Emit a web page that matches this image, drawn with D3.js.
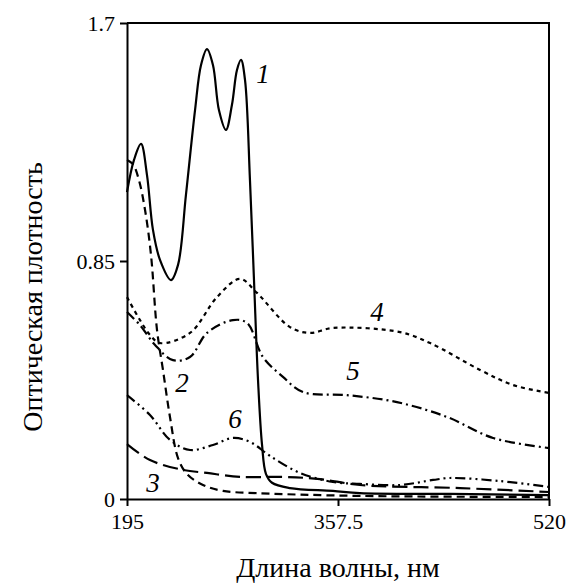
<!DOCTYPE html>
<html>
<head>
<meta charset="utf-8">
<script src="https://cdn.jsdelivr.net/npm/d3@7"></script>
<style>
  body { margin: 0; background: #fff; }
  svg { display: block; }
</style>
</head>
<body>
<div id="chart"></div>
<script>
// wavelength (nm) / optical density
const curve1X = [195, 200.4, 205.8, 210.4, 215, 220.4, 228.9, 234.3, 240.4, 247.4, 252, 256.6, 261.2, 265.8, 271.2, 275.8, 279.7, 282.8, 285.9, 289.7, 292.8, 295.9, 299, 302, 306.7, 320.5, 353.6, 374.4, 443.8, 520];
const curve1Y = [1.096, 1.211, 1.268, 1.157, 0.961, 0.854, 0.782, 0.836, 1.086, 1.389, 1.55, 1.607, 1.55, 1.389, 1.318, 1.407, 1.532, 1.568, 1.496, 1.139, 0.782, 0.425, 0.193, 0.09, 0.058, 0.039, 0.029, 0.021, 0.018, 0.014];

const curve2X = [195, 199.6, 204.2, 208.9, 213.5, 218.1, 222.7, 228.1, 234.3, 241.2, 253.5, 268.9, 295.1, 374.4, 520];
const curve2Y = [1.211, 1.196, 1.139, 1.032, 0.871, 0.604, 0.461, 0.293, 0.146, 0.089, 0.05, 0.029, 0.021, 0.011, 0.007];

const curve3X = [195, 212.7, 238.1, 256.6, 282, 315.1, 343.6, 374.4, 451.5, 520];
const curve3Y = [0.196, 0.139, 0.104, 0.093, 0.079, 0.079, 0.071, 0.05, 0.039, 0.025];

const curve4X = [195, 205, 212.7, 220.4, 243.5, 264.3, 282, 295.1, 320.5, 335.9, 353.6, 405.3, 428.4, 466.9, 492.3, 520];
const curve4Y = [0.721, 0.639, 0.586, 0.557, 0.593, 0.721, 0.786, 0.736, 0.614, 0.593, 0.611, 0.596, 0.557, 0.461, 0.407, 0.379];

const curve5X = [195, 205, 216.6, 230.4, 243.5, 256.6, 276.6, 287.4, 299.7, 315.1, 330.5, 364.4, 402.9, 441.4, 476.9, 520];
const curve5Y = [0.668, 0.621, 0.55, 0.496, 0.507, 0.593, 0.639, 0.629, 0.507, 0.436, 0.382, 0.371, 0.346, 0.293, 0.218, 0.182];

const curve6X = [195, 212.7, 228.1, 243.5, 261.2, 276.6, 289.7, 305.1, 328.2, 353.6, 374.4, 405.3, 430.7, 443.8, 482.3, 520];
const curve6Y = [0.371, 0.3, 0.211, 0.175, 0.193, 0.218, 0.204, 0.154, 0.093, 0.061, 0.054, 0.05, 0.068, 0.075, 0.064, 0.043];

const xTicks = [195, 357.5, 520];
const yTicks = [0, 0.85, 1.7];

const serif = "'Liberation Serif', 'Times New Roman', serif";

const width = 569;
const height = 586;
const margin = { left: 127, right: 20, top: 23, bottom: 87 };

const svg = d3.select("#chart").append("svg")
    .attr("width", width)
    .attr("height", height);

let x = d3.scaleLinear()
    .domain([195, 520])
    .range([margin.left, width - margin.right]);

let y = d3.scaleLinear()
    .domain([0, 1.7])
    .range([height - margin.bottom, margin.top]);

// frame: top and right edges
svg.append("path")
    .attr("fill", "none")
    .attr("stroke", "black")
    .attr("stroke-width", 2)
    .attr("d", `M${x(195)},${y(1.7)}H${x(520)}V${y(0)}`);

// curves
let line = d3.line()
    .x(d => x(d[0]))
    .y(d => y(d[1]))
    .curve(d3.curveCatmullRom.alpha(0.5));

const curves = [
    { xs: curve1X, ys: curve1Y, dash: null },
    { xs: curve2X, ys: curve2Y, dash: "8,5" },
    { xs: curve3X, ys: curve3Y, dash: "15,6" },
    { xs: curve4X, ys: curve4Y, dash: "4,4" },
    { xs: curve5X, ys: curve5Y, dash: "10,4,2,4" },
    { xs: curve6X, ys: curve6Y, dash: "10,4,2,4,2,4" }
];

svg.append("g").selectAll("path")
    .data(curves)
    .enter()
    .append("path")
    .attr("fill", "none")
    .attr("stroke", "black")
    .attr("stroke-width", 2.2)
    .attr("stroke-dasharray", d => d.dash)
    .attr("d", d => line(d.xs.map((v, i) => [v, d.ys[i]])));

// axes
let xAxis = g => g
    .attr("transform", `translate(0, ${y(0)})`)
    .call(d3.axisBottom(x).tickValues(xTicks).tickFormat(d => d).tickSize(7).tickPadding(7).tickSizeOuter(0));

let yAxis = g => g
    .attr("transform", `translate(${x(195)}, 0)`)
    .call(d3.axisLeft(y).tickValues(yTicks).tickFormat(d => d).tickSize(7).tickPadding(5).tickSizeOuter(0));

svg.append("g").call(xAxis);
svg.append("g").call(yAxis);

svg.selectAll(".domain, .tick line")
    .attr("stroke", "black")
    .attr("stroke-width", 2);

svg.selectAll(".tick text")
    .attr("fill", "black")
    .attr("font-family", serif)
    .attr("font-size", 22);

// curve numbers
const labelText = ["1", "2", "3", "4", "5", "6"];
const labelX = [263, 182, 153, 377, 353, 235];
const labelY = [74, 383, 483, 312, 371, 419];

svg.append("g").selectAll("text")
    .data(labelText)
    .enter()
    .append("text")
    .attr("x", (d, i) => labelX[i])
    .attr("y", (d, i) => labelY[i])
    .attr("dy", "0.35em")
    .attr("text-anchor", "middle")
    .attr("font-family", serif)
    .attr("font-style", "italic")
    .attr("font-size", 27)
    .text(d => d);

// axis titles
svg.append("text")
    .attr("x", x(357.5))
    .attr("y", 577)
    .attr("text-anchor", "middle")
    .attr("font-family", serif)
    .attr("font-size", 28)
    .text("Длина волны, нм");

svg.append("text")
    .attr("transform", `translate(42, 297) rotate(-90)`)
    .attr("text-anchor", "middle")
    .attr("font-family", serif)
    .attr("font-size", 28)
    .text("Оптическая плотность");
</script>
</body>
</html>
